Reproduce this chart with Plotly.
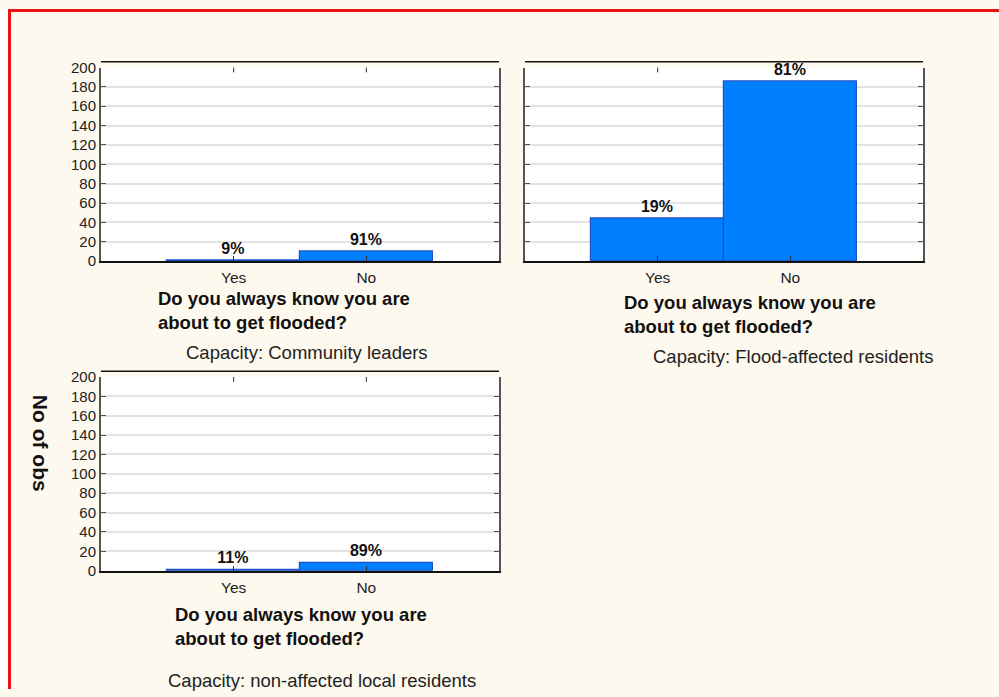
import plotly.graph_objects as go

# Survey answers: "Do you always know you are about to get flooded?"
answers = ["Yes", "No"]
leaders_counts = [1, 10]
affected_counts = [44, 186]
nonaffected_counts = [1, 8]

panel_counts = [leaders_counts, affected_counts, nonaffected_counts]
panel_captions = [
    "Capacity: Community leaders",
    "Capacity: Flood-affected residents",
    "Capacity: non-affected local residents",
]
question_lines = ["Do you always know you are", "about to get flooded?"]
y_title = "No of obs"
y_ticks = list(range(0, 201, 20))

W, H = 999, 697
FONT = "Liberation Sans, Arial, sans-serif"
CREAM = "#FEF9EE"
BAR_FILL = "#0080FF"
BAR_EDGE = "#1F50C8"


def fx(p):
    return p / W


def fy(p):
    return 1 - p / H


# pixel boxes of the three plot areas: left, right, top, bottom
boxes = [(101, 499, 60, 258.4), (525, 923, 60, 258.4), (101, 499, 377.2, 575.7)]
show_ylabels = [True, False, True]
# text under each panel: question x, line y positions, caption centre x, caption y
text_pos = [
    (156, (296.8, 321.2), 307, 351.6),
    (622, (300.4, 325.4), 793, 355.7),
    (173, (620.3, 644.8), 322, 688.3),
]

fig = go.Figure()
shapes = []
annotations = []

for i, (counts, box) in enumerate(zip(panel_counts, boxes)):
    n = i + 1
    xa = "x" if n == 1 else f"x{n}"
    ya = "y" if n == 1 else f"y{n}"
    total = sum(counts)
    labels = [f"<b>{round(100 * c / total)}%</b>" for c in counts]
    fig.add_trace(
        go.Bar(
            x=answers,
            y=counts,
            text=labels,
            textposition="outside",
            textfont=dict(family=FONT, size=16, color="#111111"),
            marker=dict(color=BAR_FILL, line=dict(color=BAR_EDGE, width=1.2)),
            width=1,
            cliponaxis=False,
            xaxis=xa,
            yaxis=ya,
            showlegend=False,
        )
    )
    x0, x1, yt, yb = box
    fig.update_layout(
        {
            f"xaxis{'' if n == 1 else n}": dict(
                domain=[fx(x0), fx(x1)],
                anchor=ya,
                type="category",
                range=[-1, 2],
                showline=True,
                linecolor="#111111",
                linewidth=1.5,
                ticks="inside",
                ticklen=5,
                tickcolor="#333333",
                ticklabelstandoff=2,
                tickfont=dict(family=FONT, size=15.5, color="#222222"),
                showgrid=False,
                zeroline=False,
                fixedrange=True,
            ),
            f"yaxis{'' if n == 1 else n}": dict(
                domain=[fy(yb), fy(yt)],
                anchor=xa,
                range=[0, 200],
                tickvals=y_ticks,
                showticklabels=show_ylabels[i],
                showline=True,
                mirror="ticks",
                linecolor="#555555",
                linewidth=2,
                ticks="inside",
                ticklen=5,
                tickcolor="#555555",
                tickfont=dict(family=FONT, size=15, color="#222222"),
                showgrid=True,
                gridcolor="#E3E3E3",
                gridwidth=1.5,
                zeroline=False,
                fixedrange=True,
            ),
        }
    )
    # rule drawn just above the plot area
    rule_y = (yb - (yt - 6)) / (yb - yt)
    shapes.append(
        dict(
            type="line",
            xref=f"{xa} domain",
            yref=f"{ya} domain",
            x0=0,
            x1=1,
            y0=rule_y,
            y1=rule_y,
            line=dict(color="#111111", width=1.5),
        )
    )
    # tick marks along the top edge, left out where a tall bar's label sits
    for a, c in zip(answers, counts):
        if c > 160:
            continue
        shapes.append(
            dict(
                type="line",
                xref=xa,
                yref=f"{ya} domain",
                x0=a,
                x1=a,
                y0=1,
                y1=1 - 5 / (yb - yt),
                line=dict(color="#333333", width=1),
            )
        )
    qx, qys, cx, cy = text_pos[i]
    for line, qy in zip(question_lines, qys):
        annotations.append(
            dict(
                text=f"<b>{line}</b>",
                xref="paper",
                yref="paper",
                x=fx(qx),
                y=fy(qy),
                xanchor="left",
                yanchor="middle",
                showarrow=False,
                font=dict(family=FONT, size=18.5, color="#111111"),
            )
        )
    annotations.append(
        dict(
            text=panel_captions[i],
            xref="paper",
            yref="paper",
            x=fx(cx),
            y=fy(cy),
            xanchor="center",
            yanchor="middle",
            showarrow=False,
            font=dict(family=FONT, size=18.5, color="#222222"),
        )
    )

annotations.append(
    dict(
        text=f"<b>{y_title}</b>",
        xref="paper",
        yref="paper",
        x=fx(40),
        y=fy(444.7),
        textangle=90,
        xanchor="center",
        yanchor="middle",
        showarrow=False,
        font=dict(family=FONT, size=21, color="#111111"),
    )
)

# white margin left of the red frame, then the frame itself
shapes += [
    dict(type="rect", xref="paper", yref="paper", x0=0, x1=fx(8), y0=0, y1=1,
         fillcolor="white", line=dict(width=0), layer="below"),
    dict(type="line", xref="paper", yref="paper", x0=fx(9.5), x1=fx(9.5), y0=0, y1=1,
         line=dict(color="#EE1111", width=3)),
    dict(type="line", xref="paper", yref="paper", x0=fx(8), x1=1, y0=fy(1.5), y1=fy(1.5),
         line=dict(color="#EE1111", width=3)),
]

fig.update_layout(
    width=W,
    height=H,
    margin=dict(l=0, r=0, t=0, b=0),
    paper_bgcolor=CREAM,
    plot_bgcolor="white",
    bargap=0,
    shapes=shapes,
    annotations=annotations,
    font=dict(family=FONT),
)

fig.write_html("out.html")
